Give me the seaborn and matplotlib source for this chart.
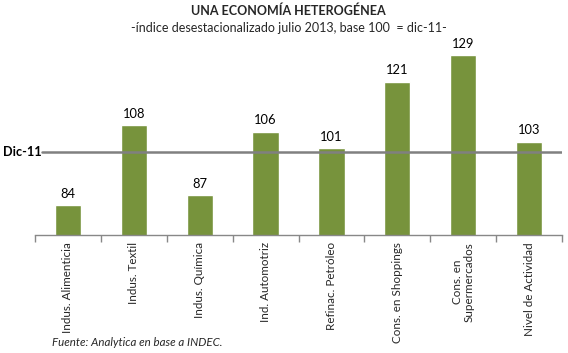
import seaborn as sns
import matplotlib.pyplot as plt
import pandas as pd
import numpy as np

categorias = ['Indus. Alimenticia', 'Indus. Textil', 'Indus. Química', 'Ind. Automotriz',
              'Refinac. Petróleo', 'Cons. en Shoppings', 'Cons. en\nSupermercados',
              'Nivel de Actividad']
valores = [84, 108, 87, 106, 101, 121, 129, 103]
base = 100

df = pd.DataFrame({'categoria': categorias, 'valor': valores})

sns.set_style('white')
plt.rcParams['font.family'] = ['Lato', 'DejaVu Sans']

fig = plt.figure(figsize=(5.68, 3.53), dpi=100)
ax = fig.add_axes([35 / 568, 1 - 235 / 353, 527 / 568, 200 / 353])

sns.barplot(data=df, x='categoria', y='valor', color='#77933C', width=0.4,
            saturation=1, ax=ax, zorder=2)

ax.set_ylim(75, 135)
ax.set_xlim(-0.5, len(categorias) - 0.5)

# linea de referencia dic-11
ax.axhline(base, xmin=7 / 527, color='#808080', lw=1.8, zorder=3)
fig.text(3 / 568, ax.transData.transform((0, base))[1] / fig.bbox.height, 'Dic-11',
         ha='left', va='center', fontsize=9.2, fontweight='bold', color='black')

# etiquetas de valor
for i, v in enumerate(valores):
    ax.text(i, v + 1.6, f'{v}', ha='center', va='bottom', fontsize=9.3, color='black')

ax.set_xlabel('')
ax.set_ylabel('')
ax.set_yticks([])
for s in ['top', 'left', 'right']:
    ax.spines[s].set_visible(False)
ax.spines['bottom'].set_color('#888888')
ax.spines['bottom'].set_linewidth(1)

ax.set_xticks(range(len(categorias)))
ax.set_xticklabels(categorias, rotation=90, fontsize=8.4, va='top', ha='center',
                   multialignment='center', linespacing=1.05)
ax.tick_params(axis='x', which='major', length=0, pad=5)
ax.set_xticks(np.arange(-0.5, len(categorias), 1), minor=True)
ax.tick_params(axis='x', which='minor', length=5, color='#888888', width=1,
               direction='out', bottom=True)

fig.text(0.508, 1 - 11 / 353, 'UNA ECONOMÍA HETEROGÉNEA', ha='center', va='center',
         fontsize=9, fontweight='bold')
fig.text(0.508, 1 - 28 / 353, '-índice desestacionalizado julio 2013, base 100  = dic-11-',
         ha='center', va='center', fontsize=9)
fig.text(52 / 568, 1 - 343 / 353, 'Fuente: Analytica en base a INDEC.', ha='left',
         va='center', fontsize=8.3, style='italic')

fig.savefig('out.png', dpi=100)
